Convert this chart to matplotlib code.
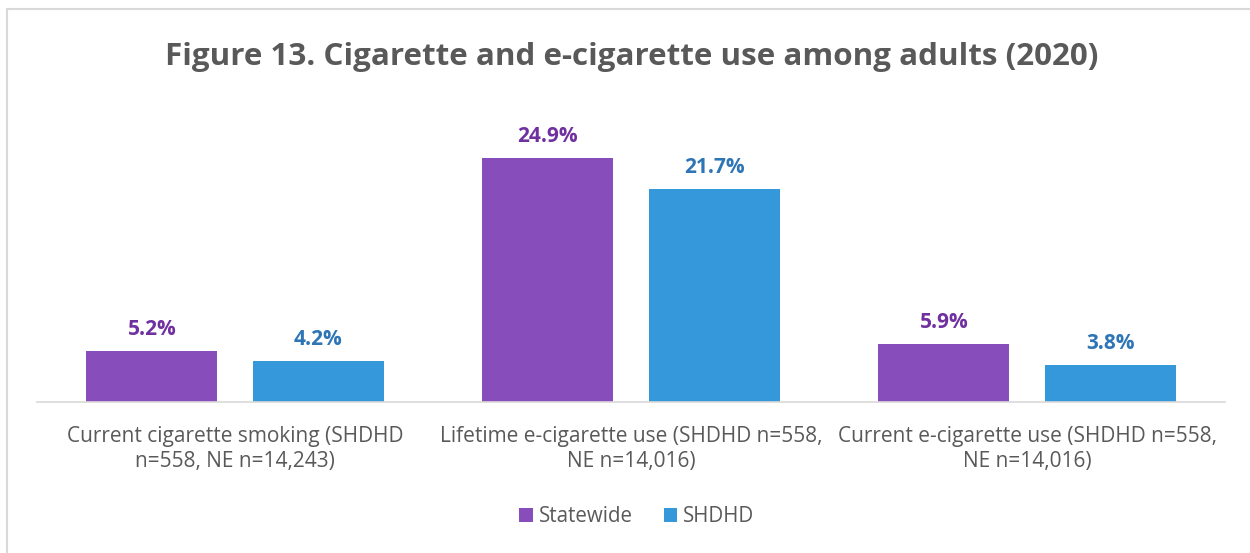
import matplotlib.pyplot as plt
import numpy as np
from matplotlib.patches import Rectangle

categories = [
    "Current cigarette smoking (SHDHD\nn=558, NE n=14,243)",
    "Lifetime e-cigarette use (SHDHD n=558,\nNE n=14,016)",
    "Current e-cigarette use (SHDHD n=558,\nNE n=14,016)",
]
statewide = [5.2, 24.9, 5.9]
shdhd = [4.2, 21.7, 3.8]

purple = "#874EBB"
blue = "#3498DB"
purple_txt = "#7030A0"
blue_txt = "#2E75B6"
grey = "#595959"

plt.rcParams["font.family"] = ["Open Sans", "DejaVu Sans"]

W, H = 1250, 553
fig = plt.figure(figsize=(W / 100, H / 100), dpi=100)

# light frame like the source chart area
fig.patches.append(Rectangle((7 / W, -0.1), 1.2, 1 - 9 / H + 0.1, transform=fig.transFigure,
                             fill=False, edgecolor="#D9D9D9", linewidth=1.5))

ax = fig.add_axes([37 / W, (H - 402) / H, (1225 - 37) / W, (402 - 108) / H])

x = np.arange(len(categories))
w = 0.331
off = 0.21
b1 = ax.bar(x - off, statewide, w, color=purple, label="Statewide")
b2 = ax.bar(x + off, shdhd, w, color=blue, label="SHDHD")

for bars, vals, c in [(b1, statewide, purple_txt), (b2, shdhd, blue_txt)]:
    for r, v in zip(bars, vals):
        ax.annotate(f"{v:.1f}%", (r.get_x() + r.get_width() / 2, v), xytext=(0, 8),
                    textcoords="offset points", ha="center", va="bottom",
                    fontsize=15, fontweight="bold", color=c)

ax.set_xlim(-0.5, 2.5)
ax.set_ylim(0, 30)
ax.set_yticks([])
ax.set_xticks(x)
ax.set_xticklabels(categories, fontsize=15, color=grey, linespacing=1.3)
ax.tick_params(axis="x", length=0, pad=17)
for s in ["top", "right", "left"]:
    ax.spines[s].set_visible(False)
ax.spines["bottom"].set_color("#D9D9D9")
ax.spines["bottom"].set_linewidth(1.2)

fig.text(632 / W, 1 - 57 / H, "Figure 13. Cigarette and e-cigarette use among adults (2020)",
         ha="center", va="center", fontsize=22.6, fontweight="bold", color=grey)

fig.legend(loc="center", bbox_to_anchor=(637 / W, 1 - 517 / H), ncol=2, frameon=False,
           fontsize=14.8, handlelength=0.65, handleheight=0.65, handletextpad=0.3,
           columnspacing=1.5, labelcolor=grey)

fig.savefig("out.png", dpi=100)
